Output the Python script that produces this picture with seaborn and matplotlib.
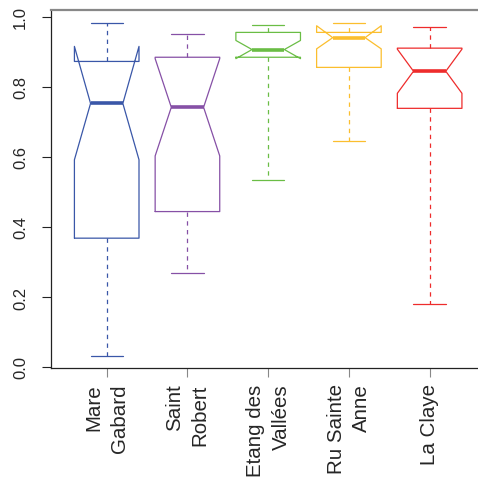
import matplotlib
matplotlib.use("Agg")
import matplotlib.pyplot as plt
import seaborn as sns

# Sites and box statistics (proportions)
sites = ["Mare\nGabard", "Saint\nRobert", "Etang des\nVallées", "Ru Sainte\nAnne", "La Claye"]
whisker_low = [0.032, 0.269, 0.535, 0.645, 0.179]
q1 = [0.368, 0.444, 0.885, 0.856, 0.739]
median = [0.753, 0.742, 0.907, 0.941, 0.845]
q3 = [0.873, 0.885, 0.956, 0.956, 0.911]
whisker_high = [0.982, 0.950, 0.976, 0.983, 0.971]
notch_low = [0.592, 0.603, 0.881, 0.909, 0.782]
notch_high = [0.916, 0.881, 0.933, 0.975, 0.908]
colors = ["#3A57A8", "#8650A6", "#6ABD45", "#FBBE2E", "#EE2C2C"]
yticks = [0.0, 0.2, 0.4, 0.6, 0.8, 1.0]

sns.set_style("ticks")
plt.rcParams["font.family"] = ["Liberation Sans", "DejaVu Sans"]

fig = plt.figure(figsize=(4.78, 4.85), dpi=100)
ax = fig.add_axes([51 / 478, 116 / 485, 440 / 478, 358 / 485])

for i, name in enumerate(sites):
    stats = [dict(label=name, med=median[i], q1=q1[i], q3=q3[i],
                  whislo=whisker_low[i], whishi=whisker_high[i],
                  cilo=notch_low[i], cihi=notch_high[i])]
    c = colors[i]
    ax.bxp(stats, positions=[i + 1], widths=0.8, shownotches=True,
           showfliers=False, manage_ticks=False,
           boxprops=dict(color=c, linewidth=0.9),
           medianprops=dict(color=c, linewidth=2.6, solid_capstyle="butt"),
           whiskerprops=dict(color=c, linewidth=0.9, linestyle=(0, (3.5, 3.5))),
           capprops=dict(color=c, linewidth=0.9))

ax.set_xlim(0.31, 5.76)
ax.set_ylim(-0.003, 1.02)

ax.set_yticks(yticks)
ax.set_yticklabels([f"{v:.1f}" for v in yticks], rotation=90, va="center",
                   fontsize=12)
ax.set_xticks(range(1, len(sites) + 1))
ax.set_xticklabels(sites, rotation=90, ha="center", va="top",
                   multialignment="right", fontsize=14.8, linespacing=1.45)

ax.tick_params(axis="y", length=6.5, width=0.8, pad=10, color="#222222")
ax.tick_params(axis="x", length=6.5, width=0.8, pad=4.5, color="#888888")

for side in ["left", "bottom"]:
    ax.spines[side].set_color("#222222")
    ax.spines[side].set_linewidth(0.9)
ax.spines["top"].set_color("#888888")
ax.spines["top"].set_linewidth(1.6)
ax.spines["right"].set_visible(False)

fig.savefig("out.png", dpi=100)
